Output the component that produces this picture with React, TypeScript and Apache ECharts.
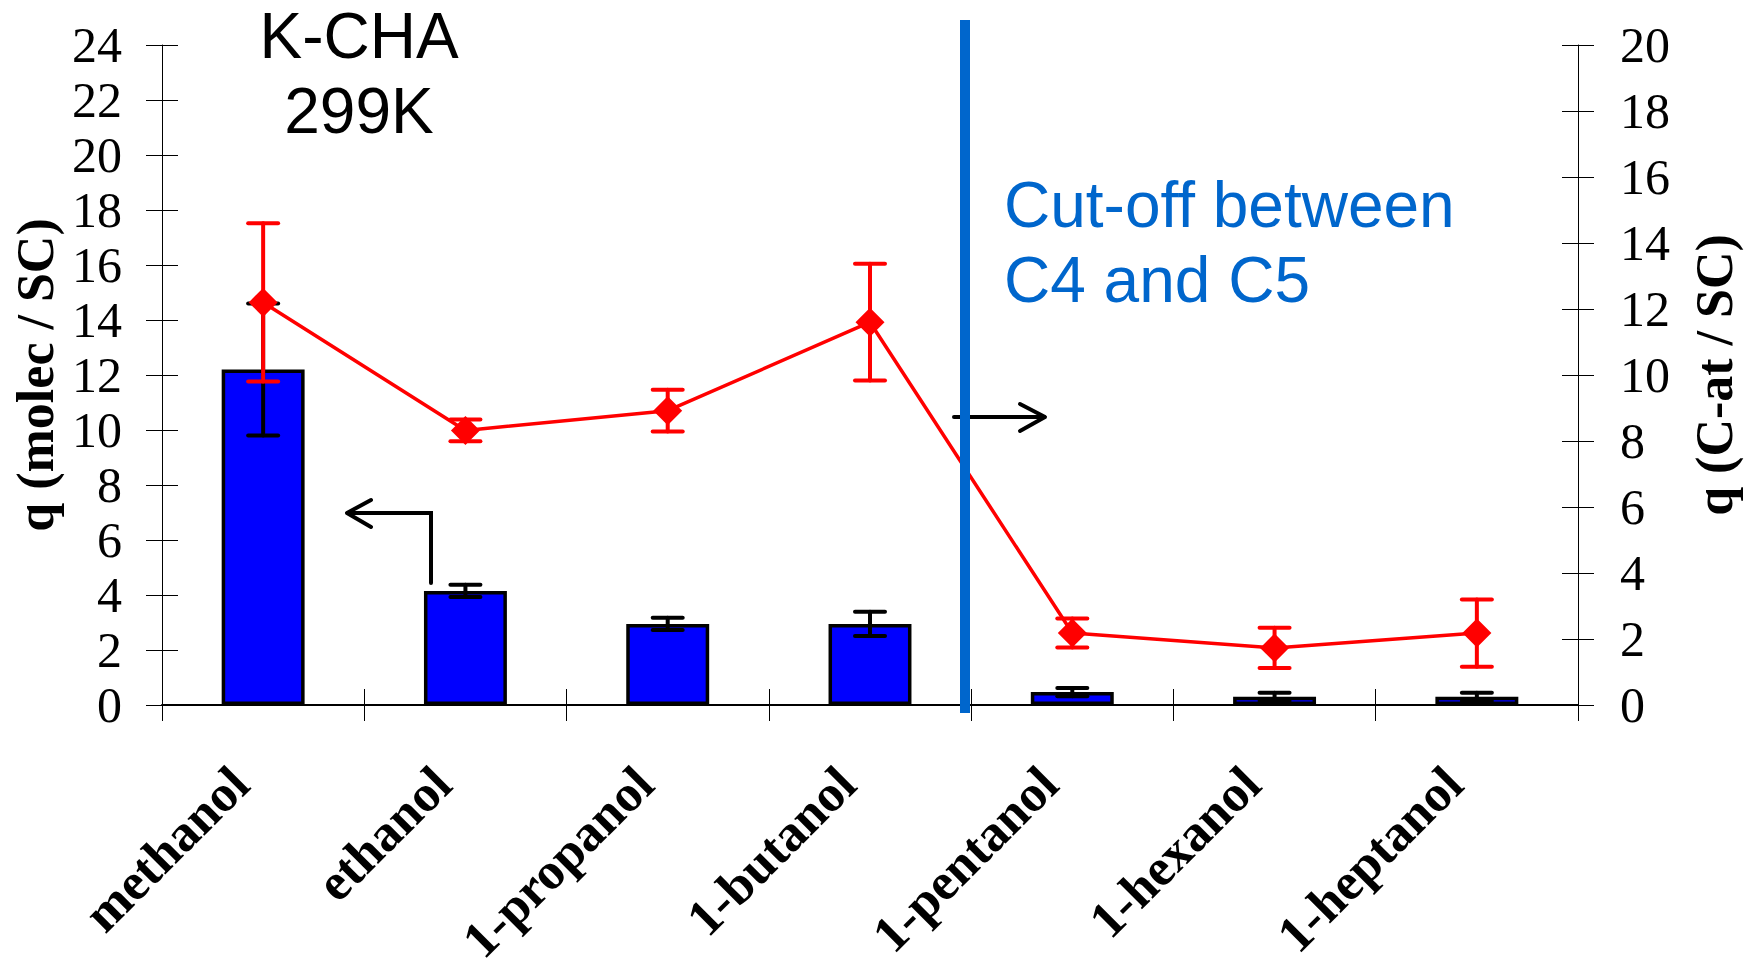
import React, { useEffect, useRef } from "react";
import * as echarts from "echarts";

// Alcohol uptake in K-CHA at 299 K
const categories = ["methanol", "ethanol", "1-propanol", "1-butanol", "1-pentanol", "1-hexanol", "1-heptanol"];

// molecules per supercage (left axis, bars)
const molecPerSC = [12.2, 4.15, 2.95, 2.95, 0.47, 0.3, 0.3];
const molecErr = [2.4, 0.22, 0.22, 0.44, 0.15, 0.15, 0.15];

// carbon atoms per supercage (right axis, line)
const carbonPerSC = [12.2, 8.32, 8.92, 11.6, 2.18, 1.73, 2.18];
const carbonErr = [2.4, 0.33, 0.63, 1.77, 0.44, 0.61, 1.02];

// axis tick values
const leftTicks = [0, 2, 4, 6, 8, 10, 12, 14, 16, 18, 20, 22, 24];
const rightTicks = [0, 2, 4, 6, 8, 10, 12, 14, 16, 18, 20];

const SERIF = "'Liberation Serif', 'Times New Roman', serif";
const SANS = "'Liberation Sans', Arial, sans-serif";

const errorBars = (color: string, width: number, half: number) => (params: any, api: any) => {
  const i = api.value(0);
  const lo = api.coord([i, api.value(1)]);
  const hi = api.coord([i, api.value(2)]);
  const style = { stroke: color, lineWidth: width, lineCap: "round" };
  return {
    type: "group",
    children: [
      { type: "line", shape: { x1: lo[0], y1: lo[1], x2: hi[0], y2: hi[1] }, style },
      { type: "line", shape: { x1: lo[0] - half, y1: lo[1], x2: lo[0] + half, y2: lo[1] }, style },
      { type: "line", shape: { x1: hi[0] - half, y1: hi[1], x2: hi[0] + half, y2: hi[1] }, style },
    ],
  };
};

const valueAxis = (ticks: number[], extra: any) => ({
  type: "value",
  min: ticks[0],
  max: ticks[ticks.length - 1],
  interval: ticks[1] - ticks[0],
  splitLine: { show: false },
  ...extra,
});

export default function App() {
  const ref = useRef<HTMLDivElement>(null);

  useEffect(() => {
    if (!ref.current) return;
    const chart = echarts.init(ref.current, null, { renderer: "svg" });

    const tickStyle = { color: "#000", width: 1 };
    const axisLabelStyle = { fontFamily: SERIF, fontSize: 50, color: "#000" };
    const nameStyle = { fontFamily: SERIF, fontSize: 52, fontWeight: "bold", color: "#000" };

    chart.setOption({
      animation: false,
      backgroundColor: "#fff",
      grid: { left: 162, right: 177, top: 45, bottom: 256, outerBoundsMode: "none", containLabel: false },
      xAxis: [
        {
          type: "category",
          data: categories,
          position: "bottom",
          axisLine: { show: true, lineStyle: { color: "#000", width: 2 } },
          axisTick: { show: true, inside: false, length: 16, lineStyle: tickStyle },
          axisLabel: {
            interval: 0,
            rotate: 45,
            margin: 47,
            padding: [0, 33, 0, 0],
            fontFamily: SERIF,
            fontWeight: "bold",
            fontSize: 52,
            color: "#000",
          },
          splitLine: { show: false },
        },
        {
          type: "category",
          data: categories,
          position: "bottom",
          axisLine: { show: false },
          axisTick: { show: true, inside: true, length: 16, lineStyle: tickStyle },
          axisLabel: { show: false },
          splitLine: { show: false },
        },
      ],
      yAxis: [
        valueAxis(leftTicks, {
          position: "left",
          name: "q (molec / SC)",
          nameLocation: "middle",
          nameRotate: 90,
          nameGap: 96,
          nameTextStyle: nameStyle,
          axisLine: { show: true, lineStyle: { color: "#000", width: 1 } },
          axisTick: { show: true, inside: false, length: 16, lineStyle: tickStyle },
          axisLabel: { ...axisLabelStyle, margin: 40 },
        }),
        valueAxis(rightTicks, {
          position: "right",
          name: "q (C-at / SC)",
          nameLocation: "middle",
          nameRotate: 90,
          nameGap: 110,
          nameTextStyle: nameStyle,
          axisLine: { show: true, lineStyle: { color: "#000", width: 1 } },
          axisTick: { show: true, inside: false, length: 16, lineStyle: tickStyle },
          axisLabel: { ...axisLabelStyle, margin: 42 },
        }),
        valueAxis(leftTicks, {
          position: "left",
          axisLine: { show: false },
          axisTick: { show: true, inside: true, length: 16, lineStyle: tickStyle },
          axisLabel: { show: false },
        }),
        valueAxis(rightTicks, {
          position: "right",
          axisLine: { show: false },
          axisTick: { show: true, inside: true, length: 16, lineStyle: tickStyle },
          axisLabel: { show: false },
        }),
      ],
      series: [
        {
          type: "bar",
          xAxisIndex: 0,
          yAxisIndex: 0,
          data: molecPerSC,
          barWidth: "41%",
          itemStyle: { color: "#0000FF", borderColor: "#000", borderWidth: 3.5 },
          z: 2,
        },
        {
          type: "custom",
          xAxisIndex: 0,
          yAxisIndex: 0,
          renderItem: errorBars("#000", 4, 15),
          encode: { x: 0, y: [1, 2] },
          data: molecPerSC.map((v, i) => [i, v - molecErr[i], v + molecErr[i]]),
          z: 3,
        },
        {
          type: "line",
          xAxisIndex: 0,
          yAxisIndex: 1,
          data: carbonPerSC,
          symbol: "diamond",
          symbolSize: [29, 29],
          itemStyle: { color: "#FF0000" },
          lineStyle: { color: "#FF0000", width: 3.5 },
          z: 4,
        },
        {
          type: "custom",
          xAxisIndex: 0,
          yAxisIndex: 1,
          renderItem: errorBars("#FF0000", 4, 15),
          encode: { x: 0, y: [1, 2] },
          data: carbonPerSC.map((v, i) => [i, v - carbonErr[i], v + carbonErr[i]]),
          z: 5,
        },
      ],
      graphic: [
        // annotation text
        {
          type: "text",
          x: 359,
          y: 36,
          z: 100,
          style: { text: "K-CHA", font: `64px ${SANS}`, fill: "#000", align: "center", verticalAlign: "middle" },
        },
        {
          type: "text",
          x: 359,
          y: 111,
          z: 100,
          style: { text: "299K", font: `64px ${SANS}`, fill: "#000", align: "center", verticalAlign: "middle" },
        },
        // cut-off marker
        {
          type: "rect",
          z: 100,
          shape: { x: 960, y: 20, width: 10, height: 693 },
          style: { fill: "#0066CC" },
        },
        {
          type: "text",
          x: 1004,
          y: 205,
          z: 100,
          style: { text: "Cut-off between", font: `64px ${SANS}`, fill: "#0066CC", align: "left", verticalAlign: "middle" },
        },
        {
          type: "text",
          x: 1004,
          y: 280,
          z: 100,
          style: { text: "C4 and C5", font: `64px ${SANS}`, fill: "#0066CC", align: "left", verticalAlign: "middle" },
        },
        // arrow pointing to the left axis
        {
          type: "polyline",
          z: 90,
          shape: { points: [[431, 583], [431, 513], [348, 513]] },
          style: { stroke: "#000", lineWidth: 4, fill: null, lineCap: "round", lineJoin: "miter" },
        },
        {
          type: "polyline",
          z: 90,
          shape: { points: [[371, 500], [347, 513], [371, 527]] },
          style: { stroke: "#000", lineWidth: 4, fill: null, lineCap: "round", lineJoin: "round" },
        },
        // arrow pointing to the right axis
        {
          type: "line",
          z: 90,
          shape: { x1: 954, y1: 417, x2: 1044, y2: 417 },
          style: { stroke: "#000", lineWidth: 4, lineCap: "round" },
        },
        {
          type: "polyline",
          z: 90,
          shape: { points: [[1020, 404], [1045, 417], [1020, 431]] },
          style: { stroke: "#000", lineWidth: 4, fill: null, lineCap: "round", lineJoin: "round" },
        },
      ],
    });

    return () => chart.dispose();
  }, []);

  return (
    <div
      ref={ref}
      style={{ position: "fixed", left: 0, top: 0, width: 1755, height: 961, background: "#fff" }}
    />
  );
}
